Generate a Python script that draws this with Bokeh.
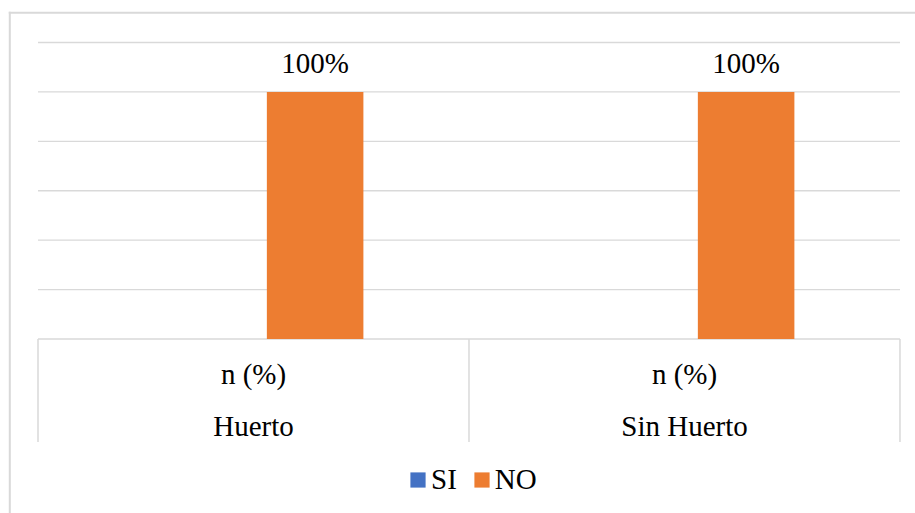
from bokeh.plotting import figure
from bokeh.models import ColumnDataSource, Range1d, Legend, LegendItem, BoxAnnotation
from bokeh.core.properties import value
from bokeh.embed import file_html
from bokeh.resources import INLINE

categories = ["Huerto", "Sin Huerto"]
sub_labels = ["n (%)", "n (%)"]
series_names = ["SI", "NO"]
si_values = [0, 0]
no_values = [100, 100]
y_ticks = [0, 20, 40, 60, 80, 100, 120]

FONT = "Liberation Serif"
GRID = "#D9D9D9"
COLORS = {"SI": "#4472C4", "NO": "#ED7D31"}
W, H = 915, 513
SEP_DEPTH = -41.7   # how far the category separators reach below the baseline
OFF, BW = 0.143, 0.224

n = len(categories)
centers = [i + 0.5 for i in range(n)]

src = ColumnDataSource(data=dict(
    xc=centers,
    x_si=[c - OFF for c in centers],
    x_no=[c + OFF for c in centers],
    cat=categories,
    sub=sub_labels,
    si=si_values,
    no=no_values,
    no_lbl=[f"{v}%" for v in no_values],
    zero=[0] * n,
))

p = figure(
    x_range=Range1d(-0.087, n + 0.036),
    y_range=Range1d(-70.62, 137.0),
    width=W, height=H,
    output_backend="svg", toolbar_location=None,
    x_axis_location=None, y_axis_location=None,
    min_border_left=0, min_border_right=0,
    min_border_top=0, min_border_bottom=0,
)
p.xgrid.visible = False
p.ygrid.visible = False
p.outline_line_color = None
p.background_fill_color = "white"
p.border_fill_color = "white"

# chart area border: only its left and top edges fall inside the picture
border = dict(left_units="canvas", right_units="canvas",
              top_units="canvas", bottom_units="canvas",
              fill_color=GRID, fill_alpha=1, line_color=None, editable=False)
p.add_layout(BoxAnnotation(left=8.3, right=10.3, top=11.2, bottom=H, **border))
p.add_layout(BoxAnnotation(left=8.3, right=W, top=11.2, bottom=13.2, **border))

# horizontal gridlines (plot area only)
p.segment(x0=[0] * len(y_ticks), y0=y_ticks, x1=[n] * len(y_ticks), y1=y_ticks,
          line_color=GRID, line_width=1.3)

# category separators below the baseline
bounds = list(range(n + 1))
p.segment(x0=bounds, y0=[0] * len(bounds), x1=bounds,
          y1=[SEP_DEPTH] * len(bounds),
          line_color=GRID, line_width=1.5)

r_si = p.vbar(x="x_si", top="si", width=BW,
              fill_color=COLORS["SI"], line_color=None, source=src)
r_no = p.vbar(x="x_no", top="no", width=BW,
              fill_color=COLORS["NO"], line_color=None, source=src)

txt = dict(text_align="center", text_baseline="alphabetic",
           text_font=value(FONT), text_font_size="29px", text_color="#000000")

p.text(x="x_no", y="no", text="no_lbl", source=src, y_offset=-29, **txt)
p.text(x="xc", y="zero", text="sub", source=src, y_offset=34.5, **txt)
p.text(x="xc", y="zero", text="cat", source=src, y_offset=86.5, **txt)

legend = Legend(
    items=[LegendItem(label=series_names[0], renderers=[r_si]),
           LegendItem(label=series_names[1], renderers=[r_no])],
    orientation="horizontal", location=(408, 17.5),
    glyph_width=19, glyph_height=19, label_standoff=4, spacing=15,
    label_text_font=FONT, label_text_font_size="29px", label_text_color="#000000",
    border_line_color=None, background_fill_alpha=0,
    padding=6, margin=0,
)
p.add_layout(legend)

open("out.html", "w").write(file_html(p, INLINE))
